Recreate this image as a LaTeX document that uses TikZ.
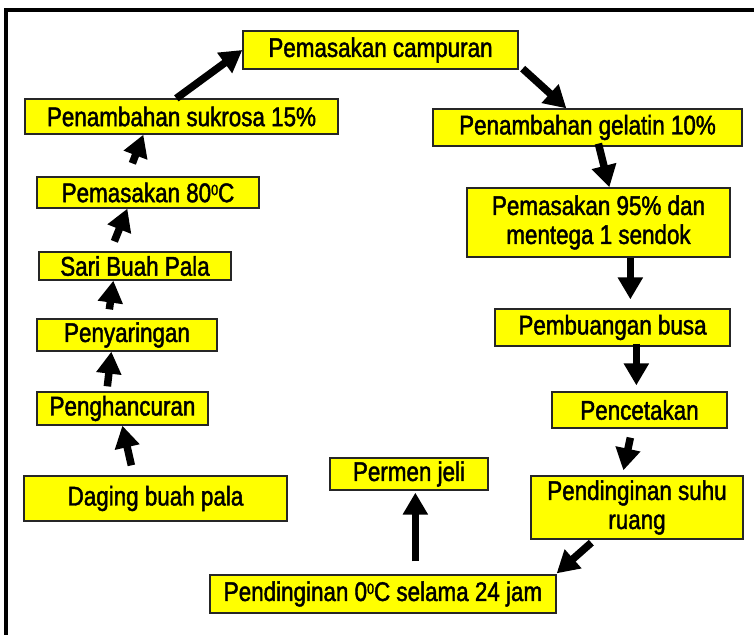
\documentclass[tikz,border=0pt]{standalone}
\usepackage{fontspec}
\setmainfont{Liberation Sans}[FakeStretch=0.83, FakeBold=1.6]
\usetikzlibrary{arrows.meta,calc}

\definecolor{boxyellow}{RGB}{255,255,0}

\newcommand{\degsup}{\raisebox{7pt}{\fontsize{15}{15}\selectfont 0}}

\tikzset{
  stepbox/.style={draw=black!85, line width=1.3pt, fill=boxyellow,
    inner sep=0pt, align=center, font=\fontsize{27}{29}\selectfont},
  flow/.style={line width=7.5pt, -{Triangle[width=24pt,length=22pt]}},
}

\begin{document}
\begin{tikzpicture}[x=1pt, y=-1pt]
\useasboundingbox (0,0) rectangle (754,634);

% frame
\draw[line width=4pt] (6,650) -- (6,10) -- (770,10);

% process steps
\node[stepbox, minimum width=275pt, minimum height=38pt] (campuran) at (380.5,50) {Pemasakan campuran};
\node[stepbox, minimum width=313pt, minimum height=35pt] (sukrosa) at (181.5,116.5) {Penambahan sukrosa 15\%};
\node[stepbox, minimum width=222pt, minimum height=31pt] (masak80) at (148,192.5) {Pemasakan 80\degsup C};
\node[stepbox, minimum width=192pt, minimum height=28pt] (sari) at (135,266) {\raisebox{-4pt}{Sari Buah Pala}};
\node[stepbox, minimum width=180pt, minimum height=32pt] (saring) at (127,335) {Penyaringan};
\node[stepbox, minimum width=171pt, minimum height=33pt] (hancur) at (122.5,408.5) {Penghancuran};
\node[stepbox, minimum width=263pt, minimum height=45pt] (daging) at (155.5,498.5) {Daging buah pala};
\node[stepbox, minimum width=346pt, minimum height=38pt] (dingin) at (383,594) {Pendinginan 0\degsup C selama 24 jam};
\node[stepbox, minimum width=158pt, minimum height=32pt] (permen) at (409,474) {Permen jeli};
\node[stepbox, minimum width=212pt, minimum height=63pt] (suhu) at (637,507.5) {Pendinginan suhu\\ruang};
\node[stepbox, minimum width=175pt, minimum height=36pt] (cetak) at (639.5,410) {Pencetakan};
\node[stepbox, minimum width=235pt, minimum height=37pt] (busa) at (612.5,327.5) {Pembuangan busa};
\node[stepbox, minimum width=263pt, minimum height=69pt] (masak95) at (598.5,222.5) {Pemasakan 95\% dan\\mentega 1 sendok};
\node[stepbox, minimum width=309pt, minimum height=37pt] (gelatin) at (587.5,127.5) {Penambahan gelatin 10\%};

% flow arrows
\draw[flow] ($(sukrosa.north west)+(152,0)$) -- (campuran.west);
\draw[flow] ($(masak80.north west)+(96,-13)$) -- ($(sukrosa.south west)+(119,0)$);
\draw[flow] ($(sari.north west)+(76,-10)$) -- ($(masak80.south west)+(91,0)$);
\draw[flow] ($(saring.north west)+(73,-9)$) -- ($(sari.south west)+(75,0)$);
\draw[flow] ($(hancur.north west)+(71,-5)$) -- ($(saring.south west)+(75,0)$);
\draw[flow] ($(daging.north west)+(108,-10)$) -- ($(hancur.south west)+(86,0)$);
\draw[flow] ($(campuran.south east)+(4,-1)$) -- ($(gelatin.north west)+(134,0)$);
\draw[flow] ($(gelatin.south west)+(166,-3)$) -- ($(masak95.north west)+(143,0)$);
\draw[flow] ($(masak95.south west)+(164,0)$) -- ($(busa.north west)+(136,-9)$);
\draw[flow] ($(busa.south west)+(142,-3)$) -- ($(cetak.north west)+(85,-6)$);
\draw[flow] ($(cetak.south west)+(79,9)$) -- ($(suhu.north west)+(93,-5)$);
\draw[flow] ($(suhu.south west)+(61,3)$) -- ($(dingin.north east)+(0,-1)$);
\draw[flow] ($(dingin.north west)+(206,-13)$) -- ($(permen.south west)+(86,2)$);
\end{tikzpicture}
\end{document}
